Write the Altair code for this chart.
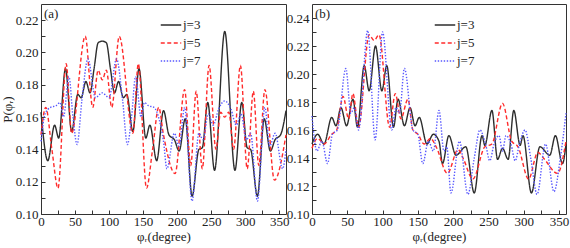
import altair as alt
import pandas as pd

FONT = "Liberation Serif"
series = ["j=3", "j=5", "j=7"]
colors = ["#2e2e2e", "#ff2b2b", "#5858ff"]
dashes = [[1, 0], [4, 2.5], [1.4, 1.6]]
panel_tags = ["(a)", "(b)"]

# ---------------- panel (a) ----------------
a3_x = [0, 10, 20, 26, 36, 45, 54, 59, 66, 72, 78, 84, 90, 96, 102, 108, 114, 121, 126, 135, 144, 154, 160, 170,
        180, 188, 196, 203, 212, 222, 232, 237, 245, 255, 270, 285, 295, 303, 308, 318, 328, 337, 344, 352, 360]
a3_y = [0.163, 0.133, 0.155, 0.147, 0.190, 0.151, 0.174, 0.172, 0.182, 0.175, 0.190, 0.206, 0.207, 0.206, 0.190,
        0.175, 0.182, 0.172, 0.174, 0.151, 0.190, 0.147, 0.155, 0.133,
        0.164, 0.149, 0.146, 0.139, 0.159, 0.111, 0.140, 0.141, 0.169, 0.127, 0.213, 0.127, 0.169, 0.141, 0.140,
        0.111, 0.159, 0.139, 0.146, 0.149, 0.164]

a5_x = [0, 7, 16, 25, 37, 45, 65, 76, 84, 90, 96, 104, 115, 135, 143, 155, 164, 173,
        180, 197, 211, 220, 228, 237, 247, 257, 264, 270, 276, 283, 293, 303, 312, 320, 329, 343, 360]
a5_y = [0.149, 0.166, 0.140, 0.116, 0.193, 0.150, 0.210, 0.166, 0.189, 0.183, 0.189, 0.166, 0.210, 0.150, 0.193,
        0.116, 0.140, 0.166,
        0.149, 0.125, 0.177, 0.130, 0.176, 0.128, 0.192, 0.140, 0.163, 0.160, 0.163, 0.140, 0.192, 0.128, 0.176,
        0.130, 0.177, 0.121, 0.149]

a7_x = [0, 6, 14, 22, 28, 33, 41, 47, 53, 60, 69, 80, 90, 100, 111, 120, 127, 133, 139, 147, 152, 158, 166, 174,
        180, 185, 196, 203, 211, 222, 232, 238, 246, 253, 261, 270, 279, 287, 294, 302, 308, 318, 329, 336, 344,
        355, 360]
a7_y = [0.145, 0.162, 0.166, 0.167, 0.169, 0.160, 0.185, 0.160, 0.143, 0.170, 0.196, 0.172, 0.175, 0.172, 0.196,
        0.170, 0.143, 0.160, 0.185, 0.160, 0.169, 0.167, 0.166, 0.158,
        0.145, 0.128, 0.150, 0.142, 0.166, 0.108, 0.150, 0.146, 0.162, 0.155, 0.165, 0.170, 0.165, 0.155, 0.162,
        0.146, 0.150, 0.108, 0.166, 0.142, 0.150, 0.128, 0.140]

# ---------------- panel (b) ----------------
b3_x = [0, 8, 17, 28, 34, 41, 49, 58, 64.5, 74, 81, 90, 99, 106, 115.5, 122, 131, 139, 146, 152, 163, 172,
        180, 185, 194, 204, 218, 230, 241, 245, 255, 263, 270, 278, 286, 295, 299, 311, 323, 337, 345, 355, 360]
b3_y = [0.150, 0.157, 0.150, 0.169, 0.163, 0.176, 0.163, 0.182, 0.162, 0.206, 0.188, 0.220, 0.188, 0.206, 0.162,
        0.182, 0.163, 0.176, 0.163, 0.169, 0.150, 0.157,
        0.152, 0.136, 0.156, 0.142, 0.148, 0.115, 0.156, 0.149, 0.174, 0.139, 0.147, 0.139, 0.174, 0.149, 0.156,
        0.115, 0.148, 0.142, 0.156, 0.136, 0.150]

b5_x = [0, 8, 17, 28, 35, 44, 52, 58, 66, 81, 88, 95, 110, 118, 126, 136, 143, 150, 159, 168, 176,
        192, 207, 214, 228, 245, 255, 270, 283, 292, 307, 320, 328, 348, 360]
b5_y = [0.147, 0.154, 0.150, 0.157, 0.160, 0.184, 0.168, 0.186, 0.162, 0.228, 0.224, 0.228, 0.162, 0.186, 0.168,
        0.182, 0.160, 0.157, 0.150, 0.154, 0.148,
        0.129, 0.146, 0.140, 0.125, 0.148, 0.150, 0.179, 0.152, 0.148, 0.125, 0.144, 0.140, 0.129, 0.152]

b7_x = [0, 7, 14, 22, 29, 36, 48, 55, 60, 66, 79, 89.5, 100, 113, 119, 124, 131, 143, 150, 157, 165, 172,
        180, 187, 191, 197, 209, 221, 230, 238, 246, 252, 258, 265, 270, 275, 282, 288, 294, 302, 310, 319, 331,
        343, 352, 360]
b7_y = [0.170, 0.145, 0.152, 0.136, 0.157, 0.160, 0.204, 0.172, 0.176, 0.160, 0.231, 0.153, 0.230, 0.160, 0.176,
        0.172, 0.204, 0.160, 0.157, 0.136, 0.152, 0.145,
        0.174, 0.145, 0.148, 0.115, 0.152, 0.114, 0.140, 0.160, 0.150, 0.138, 0.150, 0.156, 0.145, 0.156, 0.150,
        0.138, 0.150, 0.160, 0.140, 0.114, 0.150, 0.116, 0.140, 0.172]

x_ticks = list(range(0, 351, 25))


def table(parts):
    frames = []
    for xs, ys, name in parts:
        frames.append(pd.DataFrame({"phi": xs, "P": ys, "series": name}))
    return pd.concat(frames, ignore_index=True)


def panel(df, ymin, ymax, ytop_tick, ytitle, tag, width, legx):
    n = int(round((ytop_tick - ymin) / 0.01))
    yt = [round(ymin + 0.01 * i, 2) for i in range(n + 1)]
    leg = alt.Legend(orient="none", legendX=legx, legendY=10, title=None, symbolType="stroke",
                     symbolSize=420, symbolStrokeWidth=1.4, labelFont=FONT, labelFontSize=13,
                     labelColor="#222", rowPadding=0, padding=0, labelOffset=1)
    yaxis = dict(values=yt, labelExpr="abs(round(datum.value*100)) % 2 == 0 ? format(datum.value, '.2f') : ''",
                 offset=-4, tickSize=4, labelPadding=3, labelOverlap=False, labelFlush=False)
    if ytitle:
        yaxis.update(title=ytitle, titlePadding=1)
    else:
        yaxis.update(title=None)
    lines = alt.Chart(df).mark_line(strokeWidth=1.4, interpolate="monotone").encode(
        x=alt.X("phi:Q", scale=alt.Scale(domain=[0, 360], nice=False, zero=False),
                axis=alt.Axis(values=x_ticks, labelExpr="datum.value % 50 == 0 ? datum.label : ''",
                              title="φᵣ(degree)", offset=-4, tickSize=4, labelPadding=1, titlePadding=2,
                              labelOverlap=False, labelFlush=False)),
        y=alt.Y("P:Q", scale=alt.Scale(domain=[ymin, ymax], nice=False, zero=False), axis=alt.Axis(**yaxis)),
        color=alt.Color("series:N", scale=alt.Scale(domain=series, range=colors), legend=leg),
        strokeDash=alt.StrokeDash("series:N", scale=alt.Scale(domain=series, range=dashes), legend=leg),
        order=alt.Order("phi:Q"),
    )
    label = alt.Chart(pd.DataFrame({"tag": [tag]})).mark_text(
        align="left", baseline="top", font=FONT, fontSize=13, color="#222"
    ).encode(text="tag:N", x=alt.value(3), y=alt.value(4))
    return alt.layer(lines, label).properties(width=width, height=210)


df_a = table([(a3_x, a3_y, "j=3"), (a5_x, a5_y, "j=5"), (a7_x, a7_y, "j=7")])
df_b = table([(b3_x, b3_y, "j=3"), (b5_x, b5_y, "j=5"), (b7_x, b7_y, "j=7")])

pa = panel(df_a, 0.10, 0.23, 0.22, "P(φᵣ)", panel_tags[0], 245, 119)
pb = panel(df_b, 0.10, 0.25, 0.24, None, panel_tags[1], 254, 122)

chart = alt.hconcat(pa, pb, spacing=26, bounds="flush").resolve_scale(
    y="independent", color="independent", strokeDash="independent"
).properties(
    padding={"left": 0, "top": 3, "right": 0, "bottom": 0}
).configure_view(
    stroke="#333", strokeWidth=1
).configure_axis(
    labelFont=FONT, labelFontSize=13, labelColor="#222", tickColor="#333", domain=False, grid=False,
    titleFont=FONT, titleFontSize=13, titleFontWeight="normal", titleColor="#222"
)

chart.save("out.html", embed_options={"renderer": "svg", "actions": False})
